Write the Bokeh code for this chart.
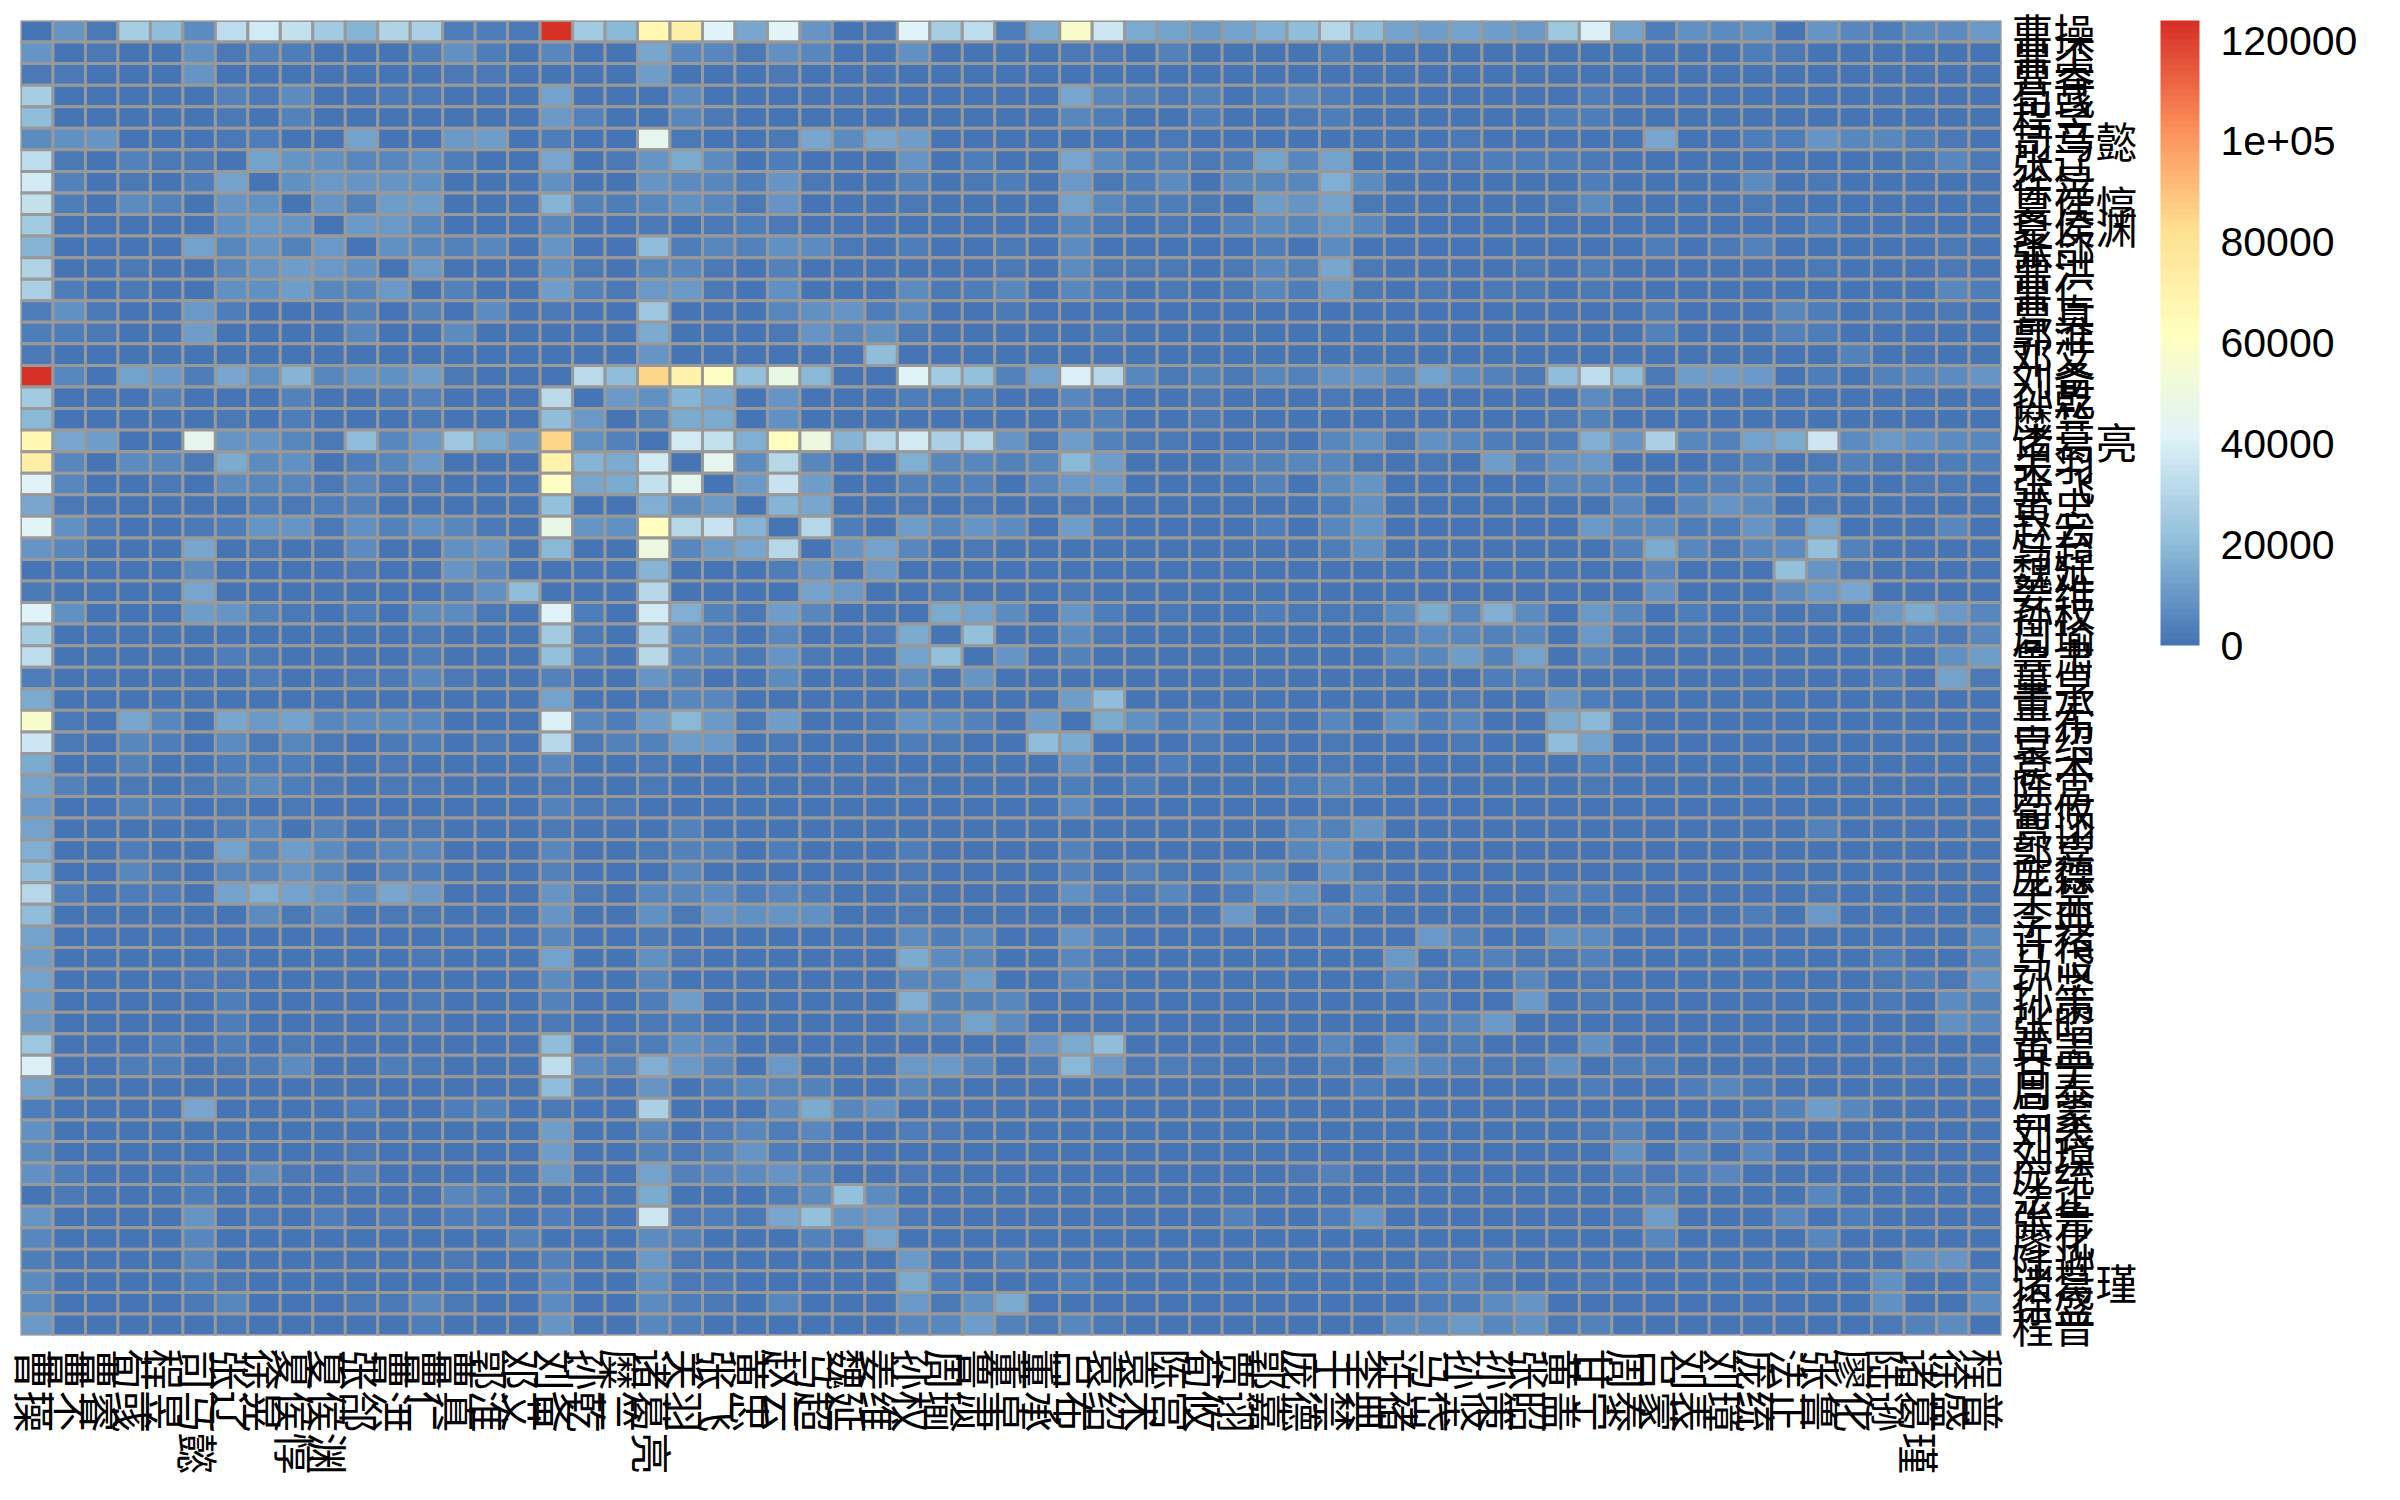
from math import pi
import numpy as np
from bokeh.embed import file_html
from bokeh.resources import INLINE
from bokeh.plotting import figure
from bokeh.models import (ColumnDataSource, LinearColorMapper, ColorBar, FixedTicker, FactorRange)
from bokeh.transform import transform

names = ["曹操","曹丕","曹睿","荀彧","程昱","司马懿","张辽","徐晃","夏侯惇","夏侯渊",
"张郃","曹洪","曹仁","曹真","郭淮","邓艾","刘备","孙乾","糜竺","诸葛亮",
"关羽","张飞","黄忠","赵云","马超","魏延","姜维","孙权","周瑜","鲁肃",
"董卓","董承","吕布","袁绍","袁术","陈宫","荀攸","贾诩","郭嘉","庞德",
"于禁","李典","许褚","马岱","孙坚","孙策","张昭","黄盖","甘宁","周泰",
"吕蒙","刘表","刘璋","庞统","法正","张鲁","廖化","陆逊","诸葛瑾","徐盛","程普"]

# values in thousands; near: rows 1-30, columns right of the diagonal up to column 30
near = [
[9,2,27,20,7,33,38,34,25,18,29,28,3,3,2,124,25,19,68,72,42,14,43,9,1,2,42,27,33],
[2,0,0,8,2,4,3,0,1,0,3,8,3,0,5,0,0,14,6,5,2,8,5,1,1,8,0,0],
[0,0,9,0,0,0,0,1,0,0,2,2,0,0,0,0,12,0,0,0,2,1,1,1,0,0,0],
[0,0,4,2,7,1,0,2,2,0,0,0,13,1,0,0,7,1,0,1,0,0,0,1,0,0],
[0,2,1,4,1,0,1,1,0,0,0,10,4,1,0,6,2,0,1,0,1,0,1,0,1],
[2,3,1,0,13,0,1,11,12,0,3,0,0,45,2,1,0,2,14,7,14,12,0,0],
[13,9,8,6,5,8,3,0,0,14,1,2,9,15,7,0,3,0,0,0,9,1,3],
[8,11,9,9,8,0,0,0,8,0,0,9,7,5,3,9,2,0,0,4,0,2],
[9,4,12,12,0,0,0,18,4,3,6,8,6,2,9,1,1,0,2,1,0],
[11,10,6,0,0,0,6,0,0,2,0,2,3,2,0,0,0,0,0,1],
[8,5,4,5,0,9,0,0,20,3,5,4,8,7,2,0,3,0,0],
[11,0,0,0,8,2,0,5,6,2,0,4,0,0,0,0,1,0],
[4,0,0,12,4,2,10,11,2,0,8,0,0,0,7,2,3],
[7,0,2,0,0,24,0,0,0,6,8,9,3,7,0,0],
[0,0,0,0,15,0,1,0,2,9,5,8,2,0,0],
[0,0,0,9,0,0,0,0,0,0,20,0,0,0],
[32,20,85,70,60,22,48,19,1,0,42,26,22],
[10,8,18,14,1,9,0,0,0,3,2,3],
[4,15,15,0,8,0,0,0,0,0,1],
[38,34,17,62,50,18,30,38,28,30],
[45,7,30,6,1,0,17,6,6],
[10,35,12,0,0,4,3,4],
[18,14,0,0,2,0,2],
[30,3,1,12,6,9],
[9,13,6,0,2],
[10,0,0,0],
[0,2,0],
[15,13],
[22],
[],
]

# rows 1-30 against columns 31-61
cross = [
[3,15,58,36,15,13,11,13,17,20,30,20,13,12,13,12,10,24,40,13,3,8,7,8,0,9,5,3,7,7,10],
[1,1,2,2,0,4,0,0,0,0,3,1,0,0,0,0,0,1,1,0,0,0,0,3,2,1,1,0,1,1,0],
[0,0,1,0,0,0,0,0,0,0,0,0,0,0,0,0,0,1,1,0,0,0,0,0,1,0,0,0,0,0,0],
[0,1,14,6,4,2,4,0,3,5,3,0,1,0,0,0,0,1,3,0,0,0,0,0,0,0,0,0,0,0,0],
[1,1,6,3,1,1,3,0,1,2,3,0,0,0,1,0,0,3,3,0,0,0,0,0,0,0,0,0,0,0,0],
[1,0,0,0,0,2,0,0,0,0,1,0,0,0,2,0,0,0,0,0,14,0,0,3,3,9,6,5,3,2,0],
[1,0,14,7,3,4,2,3,13,6,13,0,1,2,2,3,3,3,2,0,0,0,0,0,0,1,0,0,2,6,2],
[3,0,10,2,3,7,0,5,6,6,17,7,0,0,0,1,1,1,3,0,0,0,0,7,0,2,1,1,0,1,0],
[0,0,13,5,3,3,2,0,12,9,13,2,1,1,0,0,0,2,7,0,0,0,1,2,0,0,1,0,1,0,0],
[0,1,5,2,0,2,0,4,7,5,10,5,0,0,0,0,0,1,1,1,0,0,1,0,0,3,0,0,0,0,0],
[2,0,7,1,0,1,0,1,3,0,7,1,0,0,0,1,1,0,1,0,3,0,2,4,1,1,0,0,0,2,0],
[2,1,7,2,2,2,0,2,5,4,14,2,0,0,0,0,2,0,3,0,0,0,0,0,0,2,0,0,0,2,1],
[5,0,6,3,0,2,1,2,6,3,10,2,1,2,0,2,2,0,2,0,0,0,0,0,0,1,0,1,1,5,3],
[2,1,1,1,0,1,0,0,0,0,1,0,0,0,0,0,0,0,0,0,3,0,0,1,5,3,1,2,0,2,0],
[0,1,1,2,0,0,0,0,0,0,0,0,0,0,0,0,0,0,0,0,4,0,0,0,4,3,1,1,1,1,0],
[0,0,0,0,0,0,0,0,0,0,0,0,0,0,0,0,0,0,0,0,0,0,0,0,0,0,4,0,0,0,0],
[4,13,40,30,5,2,4,2,6,4,9,9,5,13,7,4,2,20,33,20,2,12,12,10,0,3,1,4,6,7,9],
[1,0,6,2,0,0,2,1,0,0,2,0,0,0,0,0,0,1,7,2,0,1,0,0,0,1,0,0,0,0,1],
[0,0,3,4,0,0,2,1,1,0,1,0,0,0,0,0,0,2,4,0,0,1,0,0,0,0,0,0,0,0,0],
[9,2,12,4,2,2,0,0,2,1,5,8,2,8,6,3,2,3,17,9,28,5,4,13,16,36,7,10,8,7,6],
[4,5,19,12,1,0,1,4,4,6,5,2,0,2,1,12,3,8,10,1,0,1,2,4,1,2,4,2,2,3,3],
[0,5,10,10,0,0,0,1,4,1,7,9,0,0,1,0,0,6,5,3,0,3,4,5,0,3,0,0,2,2,0],
[1,0,2,0,0,0,0,0,0,0,3,8,0,0,0,0,0,0,0,5,0,5,9,7,0,2,0,0,0,0,0],
[7,0,12,2,0,0,0,1,3,1,6,9,0,1,1,1,1,0,11,6,7,3,3,9,3,14,0,1,1,5,1],
[0,0,0,1,0,0,0,0,0,0,3,8,0,0,0,0,0,0,0,4,15,5,2,5,7,22,4,0,0,0,0],
[1,1,0,1,0,0,0,0,0,0,0,0,0,0,0,0,0,0,0,0,6,0,0,0,22,9,2,0,0,0,0],
[0,0,2,0,0,0,0,0,0,0,0,0,0,0,0,0,0,0,0,0,8,0,0,0,7,10,14,0,0,0,0],
[7,1,9,3,0,2,0,1,3,2,2,2,7,15,6,17,7,0,11,5,0,3,1,2,0,2,0,11,15,11,6],
[1,0,7,2,0,0,0,0,1,0,0,0,3,7,6,4,6,1,10,2,0,2,0,0,0,0,0,1,3,2,5],
[9,0,4,1,0,0,0,0,0,0,0,0,6,5,12,4,13,1,5,1,0,1,0,0,0,0,0,1,1,8,12],
]

# rows 31-61 against columns 31-61
far = [
[0,0,0,0,0,1,0,0,0,0,1,0,0,0,1,3,4,0,0,0,0,0,0,0,0,0,0,3,0,13,2],
[0,0,12,20,0,1,0,0,0,1,0,0,1,0,2,0,0,9,3,0,0,0,0,0,1,0,0,0,0,0,1],
[0,12,0,16,8,3,6,0,2,1,5,0,8,3,5,0,0,15,19,2,0,1,0,0,1,0,0,1,0,0,1],
[0,20,16,0,1,1,2,0,1,0,2,0,1,1,2,0,0,20,13,1,0,1,0,0,0,0,0,0,1,0,1],
[0,0,8,1,0,3,1,0,1,1,2,0,0,0,0,0,0,0,3,0,0,0,0,0,0,0,0,0,0,0,0],
[0,1,3,1,3,0,1,1,1,3,5,3,0,0,0,0,0,0,2,0,0,0,0,0,0,1,0,0,0,0,0],
[0,0,7,1,1,1,0,0,1,0,2,0,0,0,0,0,0,1,1,0,0,0,0,0,0,0,0,0,0,0,0],
[0,0,0,0,0,1,0,0,0,6,4,9,0,1,0,1,0,0,0,0,0,0,0,0,0,4,0,0,0,1,0],
[0,0,4,1,1,1,1,0,0,6,8,0,0,0,0,0,1,0,0,0,0,0,0,0,0,0,0,0,0,1,0],
[0,0,4,1,4,2,0,6,6,0,8,2,1,0,0,0,0,1,1,0,0,0,0,0,0,1,0,0,0,0,0],
[1,1,8,3,2,5,1,3,9,8,0,6,0,0,0,0,0,4,3,0,0,0,1,0,0,2,0,0,0,1,0],
[0,0,0,0,0,1,0,10,0,2,6,0,0,0,0,0,0,0,0,3,0,0,1,3,0,11,0,0,0,0,0],
[0,1,9,3,1,1,0,0,0,1,0,0,0,11,4,1,0,8,7,1,0,1,0,0,0,0,0,1,1,1,5],
[0,0,5,2,0,0,0,1,0,0,0,0,10,0,3,4,2,2,4,0,0,0,0,0,0,0,1,3,1,1,5],
[1,1,6,2,0,0,0,0,0,0,0,0,5,2,0,1,6,1,2,0,0,0,0,0,0,0,0,2,3,2,9],
[5,0,0,0,0,0,0,1,0,0,0,0,1,3,1,0,11,0,2,0,0,0,0,0,0,0,0,2,1,7,4],
[7,0,0,0,0,0,0,0,1,0,0,0,0,3,6,11,0,0,1,0,0,0,0,0,0,0,0,0,0,8,6],
[0,9,15,20,0,0,0,0,1,1,5,0,8,2,3,0,0,0,8,0,0,1,0,0,0,0,0,0,0,0,1],
[1,3,19,10,2,3,2,1,2,1,3,0,8,5,3,2,2,8,0,3,3,0,1,0,0,0,1,0,2,0,4],
[0,0,1,0,0,0,0,0,0,0,0,3,1,0,0,0,0,1,3,0,0,3,5,2,0,1,0,0,0,0,0],
[0,0,0,0,0,0,0,0,0,0,0,0,0,0,0,0,0,0,1,0,0,0,0,2,4,12,5,0,0,0,0],
[0,0,1,1,1,0,0,1,0,0,0,0,1,0,0,0,0,1,2,4,0,0,4,1,0,0,0,0,0,0,0],
[0,0,0,0,0,0,0,0,0,0,0,1,0,0,0,0,0,0,0,8,0,5,0,6,0,0,0,0,0,0,0],
[0,0,0,0,0,0,0,0,0,2,4,0,0,0,0,0,0,0,0,3,2,3,5,0,0,0,0,0,0,0,0],
[1,1,1,1,0,0,0,0,0,0,0,0,0,0,0,0,0,1,1,0,4,0,0,0,0,6,1,1,0,1,0],
[0,0,0,0,0,1,0,4,0,1,3,9,0,0,0,0,0,0,0,2,12,0,0,0,6,0,3,0,0,0,0],
[0,0,0,0,0,0,0,0,0,0,0,0,0,0,0,0,0,0,0,0,5,0,0,0,1,5,0,1,0,0,0],
[3,0,0,0,0,0,0,0,0,0,0,0,1,2,2,3,1,0,0,0,0,0,0,0,0,0,1,0,8,9,1],
[0,0,3,1,0,0,0,0,0,0,0,0,0,3,4,2,0,0,2,0,0,0,0,0,0,0,0,8,0,0,3],
[16,0,0,0,0,1,0,1,0,0,1,0,1,3,3,7,9,0,0,1,0,0,0,0,0,0,0,8,0,0,7],
[4,2,5,2,0,0,0,0,0,0,0,0,7,7,10,6,8,2,4,0,0,0,0,0,1,1,1,2,4,7,0],
]

ramp = ["#4575B4","#91BFDB","#E0F3F8","#FFFFBF","#FEE090","#FC8D59","#D73027"]
legend_ticks = [0, 20000, 40000, 60000, 80000, 100000, 120000]
legend_labels = ["0", "20000", "40000", "60000", "80000", "1e+05", "120000"]
value_max = 124000

n = len(names)
m = np.zeros((n, n))
for i, row in enumerate(near):
    for k, v in enumerate(row):
        m[i, i + 1 + k] = v
        m[i + 1 + k, i] = v
for i, row in enumerate(cross):
    for k, v in enumerate(row):
        m[i, 30 + k] = v
        m[30 + k, i] = v
for i, row in enumerate(far):
    for k, v in enumerate(row):
        m[30 + i, 30 + k] = v
m = m * 1000

rgb = np.array([[int(c[i:i + 2], 16) for i in (1, 3, 5)] for c in ramp], float)
pos = np.linspace(0, 1, 100)
grid = np.linspace(0, 1, 7)
palette = ["#%02x%02x%02x" % tuple(int(round(np.interp(t, grid, rgb[:, j]))) for j in range(3)) for t in pos]

xs, ys, vs = [], [], []
for i in range(n):
    for j in range(n):
        xs.append(names[j]); ys.append(names[i]); vs.append(m[i, j])
src = ColumnDataSource(dict(x=xs, y=ys, v=vs))

mapper = LinearColorMapper(palette=palette, low=0, high=value_max)

p = figure(x_range=FactorRange(*names), y_range=FactorRange(*names[::-1]),
           frame_width=1981, frame_height=1315, y_axis_location="right",
           toolbar_location=None, output_backend="svg",
           min_border_left=20, min_border_top=20, min_border_right=0, min_border_bottom=0,
           outline_line_color=None, background_fill_color="white")
p.rect(x="x", y="y", width=1, height=1, source=src,
       fill_color=transform("v", mapper), line_color="#999999", line_width=3)

p.grid.visible = False
for ax in (p.xaxis[0], p.yaxis[0]):
    ax.axis_line_color = None
    ax.major_tick_line_color = None
    ax.minor_tick_line_color = None
    ax.major_label_text_color = "black"
    ax.major_label_text_font = "Noto Sans CJK SC"
    ax.major_label_text_font_size = "42px"
p.xaxis[0].major_label_standoff = 7
p.yaxis[0].major_label_standoff = 4
p.xaxis[0].major_label_orientation = -pi / 2
p.yaxis[0].major_label_orientation = "horizontal"

cb = ColorBar(color_mapper=mapper, ticker=FixedTicker(ticks=legend_ticks),
              major_label_overrides=dict(zip(legend_ticks, legend_labels)),
              width=39, height=625, location=(20, 690), margin=0, padding=0,
              major_tick_line_color=None, minor_tick_line_color=None, bar_line_color=None,
              major_label_text_font="Liberation Sans", major_label_text_font_size="41px",
              major_label_text_color="black", label_standoff=21,
              background_fill_color="white", border_line_color=None)
p.add_layout(cb, "right")

open("out.html", "w").write(file_html(p, INLINE))
